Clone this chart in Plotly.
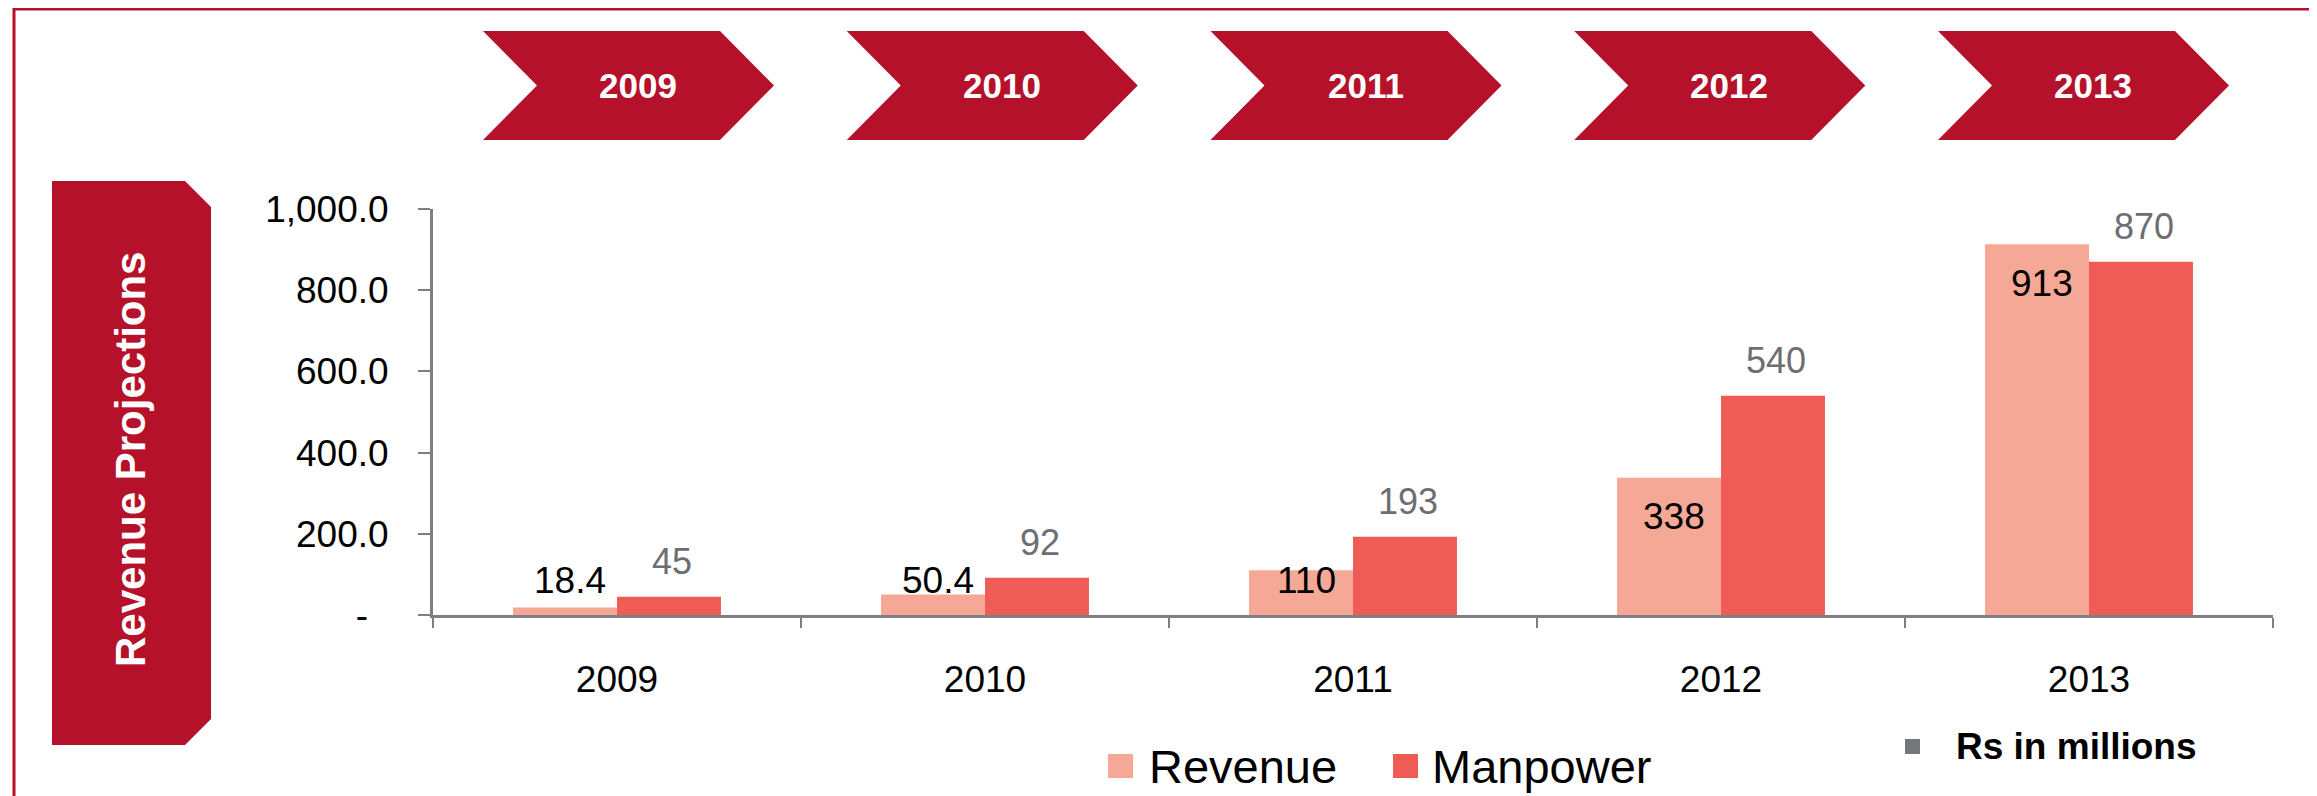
import plotly.graph_objects as go

# data
years = ["2009", "2010", "2011", "2012", "2013"]
revenue = [18.4, 50.4, 110, 338, 913]
manpower = [45, 92, 193, 540, 870]
revenue_text = ["18.4", "50.4", "110", "338", "913"]
manpower_text = ["45", "92", "193", "540", "870"]
y_tickvals = [0, 200, 400, 600, 800, 1000]
y_ticktext = ["-\u00a0\u00a0", "200.0", "400.0", "600.0", "800.0", "1,000.0"]

DARK_RED = "#B5112A"
REV_COLOR = "#F6A897"
MAN_COLOR = "#EF5B55"
AXIS_GRAY = "#7F7F7F"
FONT = "Liberation Sans, Arial, sans-serif"

# the page body has an 8px margin, so the figure is offset by that much
OFF = 8
PAGE_W, PAGE_H = 2317, 796
W, H = PAGE_W - OFF, PAGE_H - OFF
L, R, T, B = 433, 2273, 209, 615  # plot area in page pixels


def px(x):
    return (x - L) / (R - L)


def py(y):
    return (B - y) / (B - T)


fig = go.Figure()
fig.add_trace(go.Bar(x=years, y=revenue, name="Revenue", marker_color=REV_COLOR, marker_line_width=0))
fig.add_trace(go.Bar(x=years, y=manpower, name="Manpower", marker_color=MAN_COLOR, marker_line_width=0))

bargap = 0.435
half = (1 - bargap) / 4  # offset of each bar centre from category centre

annotations = []
for i, (v, t) in enumerate(zip(revenue, revenue_text)):
    annotations.append(dict(x=i - half, y=max(v - 96, 86), xref="x", yref="y", text=t, showarrow=False,
                            xshift=5, xanchor="center", yanchor="middle",
                            font=dict(family=FONT, size=37, color="black")))
for i, (v, t) in enumerate(zip(manpower, manpower_text)):
    annotations.append(dict(x=i + half, y=v, xref="x", yref="y", text=t, showarrow=False,
                            xshift=3, yshift=35, xanchor="center", yanchor="middle",
                            font=dict(family=FONT, size=36, color="#6D6E71")))

shapes = []
# outer frame
shapes.append(dict(type="rect", xref="paper", yref="paper", x0=px(14), x1=px(2312), y0=py(830), y1=py(9),
                   line=dict(color=DARK_RED, width=3), fillcolor="rgba(0,0,0,0)", layer="below"))
# left banner
bx0, bx1, by0, by1, cut = 52, 211, 181, 745, 26
banner = [(bx0, by0), (bx1 - cut, by0), (bx1, by0 + cut), (bx1, by1 - cut), (bx1 - cut, by1), (bx0, by1)]
shapes.append(dict(type="path", xref="paper", yref="paper", line_width=0, fillcolor=DARK_RED,
                   path="M" + " L".join(f"{px(a):.5f},{py(b):.5f}" for a, b in banner) + " Z"))
annotations.append(dict(x=px(130), y=py(460), xref="paper", yref="paper", text="<b>Revenue Projections</b>",
                        textangle=-90, showarrow=False, xanchor="center", yanchor="middle",
                        font=dict(family=FONT, size=42, color="white")))

# chevrons along the top
c_left, c_step, c_top, c_bot, notch, body, tip = 483, 363.75, 31, 140, 54, 237, 291
c_mid = (c_top + c_bot) / 2
for i, yr in enumerate(years):
    x0 = c_left + i * c_step
    pts = [(x0, c_top), (x0 + body, c_top), (x0 + tip, c_mid), (x0 + body, c_bot), (x0, c_bot), (x0 + notch, c_mid)]
    shapes.append(dict(type="path", xref="paper", yref="paper", line_width=0, fillcolor=DARK_RED,
                       path="M" + " L".join(f"{px(a):.5f},{py(b):.5f}" for a, b in pts) + " Z"))
    annotations.append(dict(x=px(x0 + 155), y=py(c_mid), xref="paper", yref="paper", text=f"<b>{yr}</b>",
                            showarrow=False, xanchor="center", yanchor="middle",
                            font=dict(family=FONT, size=35, color="white")))

# legend drawn by hand
legend_items = [("Revenue", REV_COLOR, 1108, 1147), ("Manpower", MAN_COLOR, 1393, 1430)]
for name, col, sx, tx in legend_items:
    shapes.append(dict(type="rect", xref="paper", yref="paper", x0=px(sx), x1=px(sx + 25), y0=py(778), y1=py(754),
                       fillcolor=col, line_width=0))
    annotations.append(dict(x=px(tx), y=py(766), xref="paper", yref="paper", text=name, showarrow=False,
                            xanchor="left", yanchor="middle", font=dict(family=FONT, size=47, color="black")))

shapes.append(dict(type="rect", xref="paper", yref="paper", x0=px(1905), x1=px(1920), y0=py(754), y1=py(739),
                   fillcolor="#75767A", line_width=0))
annotations.append(dict(x=px(1954), y=py(746), xref="paper", yref="paper", text="<b>Rs in millions</b>",
                        showarrow=False, xanchor="left", yanchor="middle",
                        font=dict(family=FONT, size=37, color="black")))

fig.update_layout(
    width=W, height=H,
    margin=dict(l=L - OFF, r=PAGE_W - R, t=T - OFF, b=PAGE_H - B),
    paper_bgcolor="white", plot_bgcolor="white",
    barmode="group", bargap=bargap, bargroupgap=0,
    showlegend=False,
    shapes=shapes, annotations=annotations,
    font=dict(family=FONT, color="black"),
)
fig.update_xaxes(type="category", showline=True, linecolor=AXIS_GRAY, linewidth=3, ticks="outside",
                 tickson="boundaries", ticklen=10, tickwidth=2, tickcolor=AXIS_GRAY, showgrid=False,
                 tickfont=dict(family=FONT, size=37, color="black"), ticklabelstandoff=30)
fig.update_yaxes(range=[0, 1000], tickvals=y_tickvals, ticktext=y_ticktext, showline=True, linecolor=AXIS_GRAY,
                 linewidth=3, ticks="outside", ticklen=12, tickwidth=2, tickcolor=AXIS_GRAY, showgrid=False,
                 zeroline=False, tickfont=dict(family=FONT, size=37, color="black"), ticklabelstandoff=22)

fig.write_html("out.html")
